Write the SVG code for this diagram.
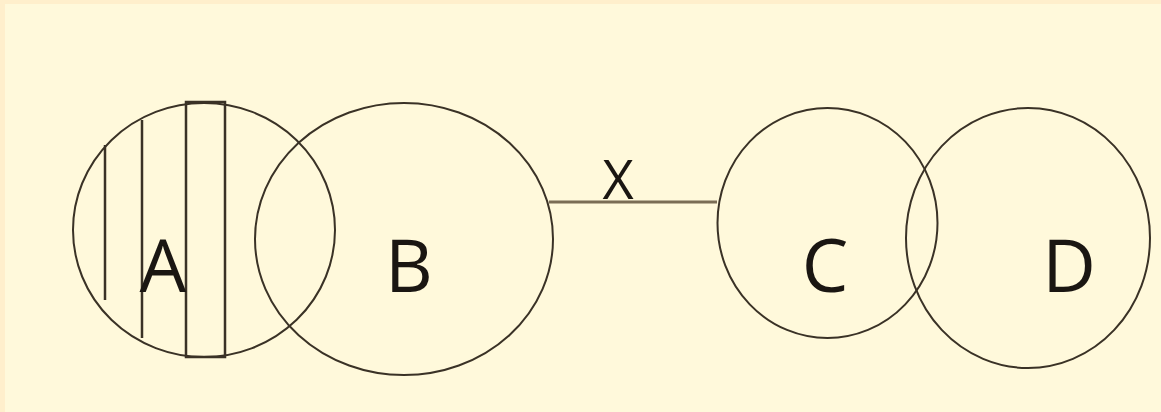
<svg xmlns="http://www.w3.org/2000/svg" width="1161" height="412" viewBox="0 0 1161 412">
<style>
.c{fill:none;stroke:#3a3226;stroke-width:2}
.h{stroke:#3a3226;stroke-width:2.5;fill:none}
.t{font-family:"Open Sans",sans-serif;fill:#1a1612;text-anchor:middle}
</style>
<rect x="0" y="0" width="1161" height="412" fill="#FFEFCC"/>
<rect x="5" y="4" width="1156" height="408" fill="#FFF9DB"/>
<g id="connectors">
<line x1="549" y1="202" x2="717" y2="202" stroke="#7a6d55" stroke-width="3"/>
<text class="t" x="618" y="199" font-size="54">X</text>
</g>
<g id="A">
<ellipse class="c" cx="204" cy="230" rx="131" ry="127"/>
<line class="h" x1="105" y1="145" x2="105" y2="300"/>
<line class="h" x1="142" y1="120" x2="142" y2="338"/>
<rect class="h" x="186" y="102" width="39" height="255"/>
<text class="t" x="163" y="292" font-size="74">A</text>
</g>
<g id="B">
<ellipse class="c" cx="404" cy="239" rx="149" ry="136"/>
<text class="t" x="409" y="292" font-size="74">B</text>
</g>
<g id="C">
<ellipse class="c" cx="827.5" cy="223" rx="110" ry="115"/>
<text class="t" x="825" y="292" font-size="74">C</text>
</g>
<g id="D">
<ellipse class="c" cx="1028" cy="238" rx="122" ry="130"/>
<text class="t" x="1069" y="292" font-size="74">D</text>
</g>
</svg>
